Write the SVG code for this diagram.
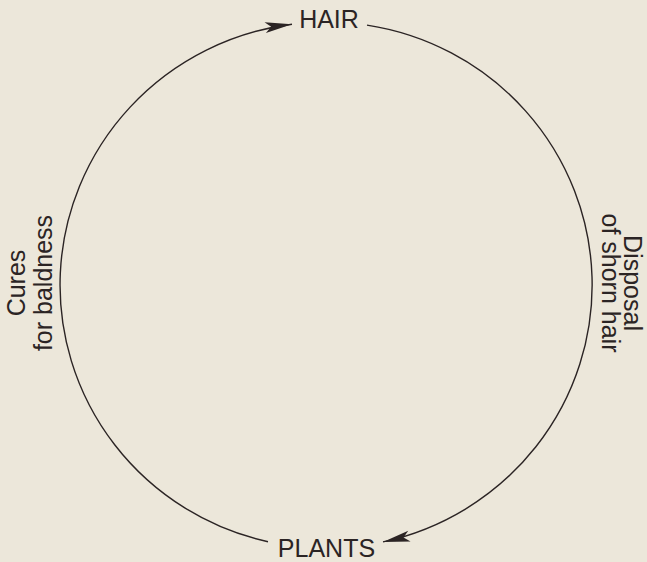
<svg xmlns="http://www.w3.org/2000/svg" width="647" height="562" viewBox="0 0 647 562">
  <defs>
    <marker id="arrow" markerUnits="userSpaceOnUse" markerWidth="40" markerHeight="20" viewBox="-30 -10 40 20" refX="0" refY="0" orient="auto">
      <path d="M0,0 L-27,-5.5 L-21,0 L-27,5.5 Z" fill="#2b2424"/>
    </marker>
    <style>
      .lbl { font-family: "Liberation Sans", Arial, sans-serif; font-size: 25px; fill: #2b2424; text-anchor: middle; }
      .arc { fill: none; stroke: #2b2424; stroke-width: 1.4; marker-end: url(#arrow); }
    </style>
  </defs>
  <rect width="647" height="562" fill="#ece7da"/>
  <g id="connectors">
    <path class="arc" d="M268,541.7 A266,263 0 0 1 292,24.2"/>
    <path class="arc" d="M367,25.1 A266,263 0 0 1 383,541.9"/>
  </g>
  <g id="hair"><text class="lbl" x="329" y="28">HAIR</text></g>
  <g id="plants"><text class="lbl" x="326.5" y="557">PLANTS</text></g>
  <g id="cures">
    <text class="lbl" transform="translate(25,283) rotate(-90)">Cures</text>
    <text class="lbl" transform="translate(52,283) rotate(-90)">for baldness</text>
  </g>
  <g id="disposal">
    <text class="lbl" transform="translate(623.5,283) rotate(90)">Disposal</text>
    <text class="lbl" transform="translate(601.5,283) rotate(90)">of shorn hair</text>
  </g>
</svg>
